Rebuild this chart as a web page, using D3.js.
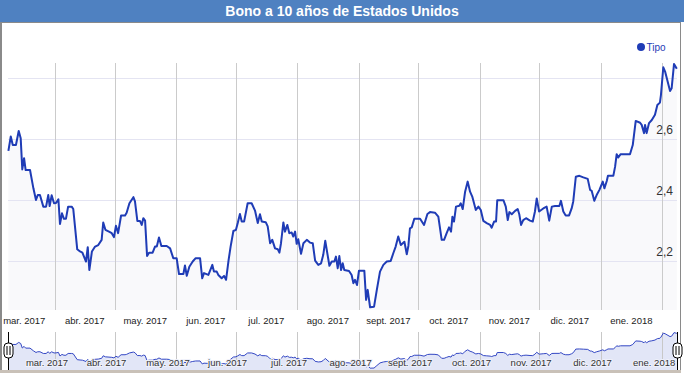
<html>
  <head>
    <script src="https://d3js.org/d3.v7.min.js"></script>
    <style>
      body {
        margin: 0;
        background: #fff;
      }
      text {
        font-family: "Liberation Sans", Arial, sans-serif;
      }
    </style>
  </head>

  <body>
    <svg id="chart" width="684" height="373"></svg>

    <script>
      // days after 1 Mar 2017
      const days = [
        7.5, 8.7, 9.7, 11.3, 12.7, 13.7, 14.5, 15.4, 16.2, 18.4, 20.1, 21.4,
        22.3, 23.4, 25.1, 26.5, 27.6, 28.3, 29.3, 30.5, 31.5, 32.7, 33.5, 34.5,
        35.5, 36.5, 37.6, 39.4, 40.2, 42.2, 43.6, 44.8, 46.6, 47.5, 48.3, 49.6,
        51.2, 52.8, 54.5, 55.3, 56.4, 58.2, 59.6, 60.7, 61.7, 62.8, 64.3, 66.3,
        67.1, 68.5, 70.5, 71.3, 72.5, 73.8, 74.7, 75.5, 76.4, 77.4, 78.4, 80.2,
        81.4, 82.3, 83.4, 84.6, 87.3, 89.0, 90.6, 92.3, 93.5, 95.7, 96.5, 97.4,
        98.7, 100.4, 101.9, 104.1, 105.2, 106.1, 108.3, 110.3, 111.1, 112.5,
        113.3, 115.0, 116.2, 117.2, 118.5, 119.5, 120.9, 122.2, 123.1, 124.2,
        125.1, 126.3, 128.1, 130.1, 131.8, 133.2, 134.3, 135.2, 137.2, 138.2,
        139.4, 140.5, 141.9, 143.3, 144.1, 144.9, 146.1, 146.9, 148.1, 149.1,
        150.3, 151.1, 152.0, 152.8, 153.6, 155.0, 156.2, 157.9, 159.5, 160.9,
        162.1, 163.7, 165.1, 166.2, 167.2, 169.3, 170.5, 171.8, 172.6, 173.5,
        174.3, 175.2, 176.0, 176.8, 179.2, 180.5, 181.4, 182.2, 183.2, 184.2,
        186.9, 187.8, 188.6, 189.8, 191.8, 193.2, 194.8, 196.5, 198.2, 200.2,
        201.5, 202.7, 204.0, 205.3, 207.1, 208.3, 209.1, 209.9, 210.8, 212.1,
        215.0, 217.0, 218.7, 220.0, 222.5, 224.2, 225.9, 227.1, 228.4, 229.6,
        230.6, 231.3, 232.1, 233.1, 234.8, 235.5, 236.5, 237.7, 239.0, 240.2,
        241.3, 243.1, 244.4, 245.6, 246.9, 248.6, 250.3, 251.1, 252.3, 253.3,
        253.9, 257.0, 258.2, 259.2, 260.0, 261.2, 262.9, 264.2, 265.0, 265.9,
        267.0, 268.4, 270.4, 271.8, 272.9, 273.8, 275.0, 277.1, 278.8, 280.1,
        281.4, 283.0, 285.2, 286.0, 287.2, 288.4, 290.1, 291.4, 292.2, 293.5,
        295.3, 297.3, 299.5, 300.7, 301.5, 302.8, 304.0, 305.4, 307.1, 307.9,
        309.1, 309.7, 312.4, 313.3, 314.1, 314.9, 316.1, 320.8, 322.2, 323.7,
        325.9, 326.7, 327.9, 328.4, 329.2, 330.4, 331.8, 333.4, 334.6, 335.9,
        336.4, 337.6, 338.5, 341.0, 341.8, 343.0, 344.4,
      ];

      const yields = [
        2.561, 2.608, 2.58, 2.58, 2.626, 2.602, 2.5, 2.537, 2.498, 2.498, 2.438,
        2.4, 2.416, 2.416, 2.378, 2.378, 2.416, 2.38, 2.415, 2.389, 2.39, 2.402,
        2.321, 2.356, 2.338, 2.338, 2.378, 2.378, 2.37, 2.238, 2.231, 2.227,
        2.198, 2.245, 2.17, 2.231, 2.247, 2.252, 2.269, 2.326, 2.302, 2.296,
        2.291, 2.278, 2.315, 2.291, 2.349, 2.349, 2.358, 2.389, 2.409, 2.395,
        2.331, 2.331, 2.318, 2.34, 2.332, 2.216, 2.227, 2.227, 2.247, 2.247,
        2.277, 2.249, 2.249, 2.241, 2.209, 2.209, 2.157, 2.157, 2.185, 2.151,
        2.181, 2.198, 2.209, 2.209, 2.143, 2.16, 2.154, 2.187, 2.165, 2.165,
        2.154, 2.143, 2.151, 2.138, 2.203, 2.247, 2.298, 2.302, 2.324, 2.354,
        2.329, 2.329, 2.389, 2.389, 2.365, 2.324, 2.353, 2.329, 2.327, 2.313,
        2.258, 2.269, 2.241, 2.238, 2.227, 2.258, 2.326, 2.296, 2.318, 2.291,
        2.293, 2.28, 2.296, 2.256, 2.271, 2.223, 2.258, 2.269, 2.26, 2.258,
        2.201, 2.187, 2.192, 2.22, 2.266, 2.184, 2.198, 2.198, 2.214, 2.176,
        2.216, 2.17, 2.192, 2.17, 2.167, 2.154, 2.127, 2.138, 2.121, 2.168,
        2.168, 2.072, 2.105, 2.048, 2.05, 2.105, 2.165, 2.187, 2.198, 2.2,
        2.225, 2.247, 2.28, 2.252, 2.263, 2.222, 2.249, 2.307, 2.31, 2.338,
        2.338, 2.318, 2.354, 2.36, 2.358, 2.345, 2.269, 2.269, 2.291, 2.31,
        2.296, 2.345, 2.329, 2.378, 2.381, 2.389, 2.37, 2.427, 2.46, 2.427,
        2.411, 2.367, 2.378, 2.367, 2.331, 2.324, 2.318, 2.309, 2.329, 2.329,
        2.399, 2.399, 2.378, 2.334, 2.36, 2.353, 2.364, 2.37, 2.353, 2.318,
        2.334, 2.34, 2.332, 2.329, 2.362, 2.405, 2.362, 2.372, 2.378, 2.332,
        2.378, 2.38, 2.38, 2.397, 2.362, 2.349, 2.349, 2.372, 2.395, 2.476,
        2.479, 2.474, 2.469, 2.433, 2.43, 2.397, 2.416, 2.433, 2.46, 2.438,
        2.462, 2.479, 2.479, 2.509, 2.55, 2.539, 2.55, 2.55, 2.58, 2.659,
        2.653, 2.646, 2.619, 2.646, 2.619, 2.652, 2.662, 2.679, 2.711, 2.719,
        2.744, 2.835, 2.821, 2.757, 2.766, 2.846, 2.83,
      ];

      const monthLabels = [
        "mar. 2017", "abr. 2017", "may. 2017", "jun. 2017", "jul. 2017",
        "ago. 2017", "sept. 2017", "oct. 2017", "nov. 2017", "dic. 2017",
        "ene. 2018",
      ];
      const yGrid = [2.2, 2.4, 2.6, 2.8];
      const yTickLabels = ["2,2", "2,4", "2,6"];

      const lineColor = "#1f3cb6";
      const start = Date.UTC(2017, 2, 1);
      const dayToDate = (d) => new Date(start + d * 864e5);

      const data = days.map((d, i) => ({ date: dayToDate(d), v: yields[i] }));

      const svg = d3.select("svg#chart");

      // title bar
      svg.append("rect").attr("x", 0).attr("y", 0).attr("width", 684).attr("height", 22).attr("fill", "#4f81c1");
      svg.append("text")
        .attr("x", 342).attr("y", 16)
        .attr("text-anchor", "middle")
        .attr("font-size", 14).attr("font-weight", "bold")
        .attr("fill", "#fff")
        .text("Bono a 10 años de Estados Unidos");

      // frame
      svg.append("line").attr("x1", 0).attr("x2", 681).attr("y1", 22.5).attr("y2", 22.5).attr("stroke", "#8a8a8a");
      svg.append("line").attr("x1", 1).attr("x2", 1).attr("y1", 22).attr("y2", 373).attr("stroke", "#8a8a8a").attr("stroke-width", 2);
      svg.append("line").attr("x1", 680.5).attr("x2", 680.5).attr("y1", 22).attr("y2", 373).attr("stroke", "#8a8a8a");

      // scales
      const x = d3.scaleUtc()
        .domain([dayToDate(7.3), dayToDate(344.5)])
        .range([8, 677]);
      const y = d3.scaleLinear().domain([2.039, 2.849]).range([310, 63]);

      const months = d3.utcMonth.range(dayToDate(0), dayToDate(345));
      const boundaries = months.slice(1);

      // area under line (very faint)
      svg.append("path")
        .datum(data)
        .attr("fill", "#f9f9fb")
        .attr("d", d3.area().x((d) => x(d.date)).y0(310).y1((d) => y(d.v)));

      // gridlines
      svg.append("g")
        .selectAll("line")
        .data(yGrid)
        .join("line")
        .attr("x1", 8).attr("x2", 677)
        .attr("y1", (d) => Math.round(y(d)) + 0.5)
        .attr("y2", (d) => Math.round(y(d)) + 0.5)
        .attr("stroke", "#e4e4f2");

      svg.append("g")
        .selectAll("line")
        .data(boundaries)
        .join("line")
        .attr("x1", (d) => Math.round(x(d)) + 0.5)
        .attr("x2", (d) => Math.round(x(d)) + 0.5)
        .attr("y1", 63).attr("y2", 310)
        .attr("stroke", "#cbcbcb");

      // line
      svg.append("path")
        .datum(data)
        .attr("fill", "none")
        .attr("stroke", lineColor)
        .attr("stroke-width", 2)
        .attr("stroke-linejoin", "round")
        .attr("d", d3.line().x((d) => x(d.date)).y((d) => y(d.v)));

      // y labels
      svg.append("g")
        .selectAll("text")
        .data(yTickLabels)
        .join("text")
        .attr("x", 673)
        .attr("y", (d, i) => y(yGrid[i]) - 5)
        .attr("text-anchor", "end")
        .attr("font-size", 12)
        .attr("fill", "#333")
        .text((d) => d);

      // x labels centred in each month
      svg.append("g")
        .selectAll("text")
        .data(monthLabels)
        .join("text")
        .attr("x", (d, i) => (x(months[i]) + x(months[i + 1])) / 2)
        .attr("y", 324)
        .attr("text-anchor", "middle")
        .attr("font-size", 9.5)
        .attr("fill", "#222")
        .text((d) => d);

      // legend
      svg.append("circle").attr("cx", 641).attr("cy", 47).attr("r", 4).attr("fill", lineColor);
      svg.append("text")
        .attr("x", 646.5).attr("y", 50.5)
        .attr("font-size", 10)
        .attr("fill", lineColor)
        .text("Tipo");

      // navigator
      const ny = d3.scaleLinear().domain([2.04, 2.86]).range([368.5, 332]);

      svg.append("path")
        .datum(data)
        .attr("fill", "#e2e6f7")
        .attr("d", d3.area().x((d) => x(d.date)).y0(370).y1((d) => ny(d.v)));

      svg.append("g")
        .selectAll("line")
        .data(boundaries)
        .join("line")
        .attr("x1", (d) => Math.round(x(d)) + 0.5)
        .attr("x2", (d) => Math.round(x(d)) + 0.5)
        .attr("y1", 332).attr("y2", 360)
        .attr("stroke", "#c8c8c8");

      svg.append("path")
        .datum(data)
        .attr("fill", "none")
        .attr("stroke", "#3347c4")
        .attr("stroke-width", 1)
        .attr("d", d3.line().x((d) => x(d.date)).y((d) => ny(d.v)));

      svg.append("g")
        .selectAll("text")
        .data(monthLabels)
        .join("text")
        .attr("x", (d, i) => x(months[i + 1]) - 8)
        .attr("y", 366)
        .attr("text-anchor", "middle")
        .attr("font-size", 9.5)
        .attr("fill", "#333")
        .attr("stroke", "#eef0fa")
        .attr("stroke-width", 2)
        .attr("paint-order", "stroke")
        .text((d) => d);

      // bottom border
      svg.append("rect").attr("x", 0).attr("y", 370).attr("width", 681).attr("height", 3).attr("fill", "#c9c1b8");

      // range handles at data ends
      const ends = [data[0].date, data[data.length - 1].date];
      const handles = svg.append("g").selectAll("g").data(ends).join("g")
        .attr("transform", (d) => `translate(${Math.round(x(d)) + 0.5},0)`);
      handles.append("line").attr("y1", 332).attr("y2", 370).attr("stroke", "#000");
      handles.append("rect")
        .attr("x", -4.5).attr("y", 343).attr("width", 9).attr("height", 15)
        .attr("rx", 4).attr("fill", "#fff").attr("stroke", "#000");
      handles.append("line").attr("x1", -1.5).attr("x2", -1.5).attr("y1", 346).attr("y2", 355).attr("stroke", "#000");
      handles.append("line").attr("x1", 1.5).attr("x2", 1.5).attr("y1", 346).attr("y2", 355).attr("stroke", "#000");
    </script>
  </body>
</html>
